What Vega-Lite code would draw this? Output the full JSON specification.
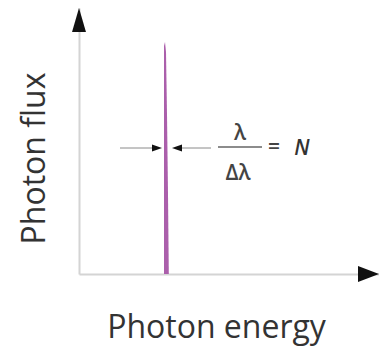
{
  "$schema": "https://vega.github.io/schema/vega-lite/v6.json",
  "width": 300,
  "height": 266,
  "autosize": {"type": "none"},
  "padding": {"left": 79, "top": 8, "right": 0, "bottom": 72},
  "background": "white",
  "config": {"view": {"stroke": null}, "font": "Open Sans"},
  "datasets": {
    "peak": [
      {"x": 85, "y": 228},
      {"x": 86, "y": 232},
      {"x": 87, "y": 222},
      {"x": 88, "y": 160},
      {"x": 89, "y": 80},
      {"x": 89.8, "y": 0}
    ],
    "leftLine": [{"x": 41, "y": 126}, {"x": 78, "y": 126}],
    "rightLine": [{"x": 98, "y": 126}, {"x": 132, "y": 126}],
    "headRight": [{"x": 78, "y": 126}],
    "headLeft": [{"x": 98, "y": 126}],
    "frac": [{"x": 139, "x2": 183, "y": 127}],
    "labels": [
      {"x": 161, "y": 134, "t": "λ"},
      {"x": 159, "y": 94, "t": "Δλ"},
      {"x": 195, "y": 120, "t": "="}
    ],
    "nlabel": [{"x": 223, "y": 119, "t": "N"}],
    "yArrow": [{"x": 0, "y": 254}],
    "xArrow": [{"x": 289.5, "y": 0}]
  },
  "layer": [
    {
      "data": {"name": "peak"},
      "mark": {"type": "area", "color": "#ab5fab", "interpolate": "linear"},
      "encoding": {
        "x": {"field": "x", "type": "quantitative", "scale": {"domain": [0, 300], "nice": false, "zero": false},
          "axis": {"title": "Photon energy", "labels": false, "ticks": false, "grid": false, "domainColor": "#d4d4d4", "domainWidth": 2,
            "titleFont": "Open Sans", "titleFontSize": 32, "titleFontWeight": "normal", "titleColor": "#333333",
            "titleX": 137, "titleY": 63, "titleAlign": "center", "titleBaseline": "alphabetic"}},
        "y": {"field": "y", "type": "quantitative", "scale": {"domain": [0, 266], "nice": false},
          "axis": {"title": "Photon flux", "labels": false, "ticks": false, "grid": false, "domainColor": "#d4d4d4", "domainWidth": 2,
            "titleFont": "Open Sans", "titleFontSize": 32, "titleFontWeight": "normal", "titleColor": "#333333",
            "titleX": -35, "titleY": 150, "titleAlign": "center", "titleBaseline": "alphabetic", "titleAngle": -90}}
      }
    },
    {
      "data": {"name": "leftLine"},
      "mark": {"type": "line", "color": "#8a8a8a", "strokeWidth": 1},
      "encoding": {"x": {"field": "x", "type": "quantitative"}, "y": {"field": "y", "type": "quantitative"}}
    },
    {
      "data": {"name": "rightLine"},
      "mark": {"type": "line", "color": "#8a8a8a", "strokeWidth": 1},
      "encoding": {"x": {"field": "x", "type": "quantitative"}, "y": {"field": "y", "type": "quantitative"}}
    },
    {
      "data": {"name": "headRight"},
      "mark": {"type": "point", "filled": true, "color": "#111111", "opacity": 1, "size": 100, "shape": "M1,0L-1,-0.7L-1,0.7Z"},
      "encoding": {"x": {"field": "x", "type": "quantitative"}, "y": {"field": "y", "type": "quantitative"}}
    },
    {
      "data": {"name": "headLeft"},
      "mark": {"type": "point", "filled": true, "color": "#111111", "opacity": 1, "size": 100, "shape": "M-1,0L1,-0.7L1,0.7Z"},
      "encoding": {"x": {"field": "x", "type": "quantitative"}, "y": {"field": "y", "type": "quantitative"}}
    },
    {
      "data": {"name": "frac"},
      "mark": {"type": "rule", "color": "#666666", "strokeWidth": 1.5},
      "encoding": {"x": {"field": "x", "type": "quantitative"}, "x2": {"field": "x2"}, "y": {"field": "y", "type": "quantitative"}}
    },
    {
      "data": {"name": "labels"},
      "mark": {"type": "text", "font": "Open Sans", "fontSize": 21, "fontWeight": 600, "color": "#444444", "align": "center", "baseline": "alphabetic"},
      "encoding": {"x": {"field": "x", "type": "quantitative"}, "y": {"field": "y", "type": "quantitative"}, "text": {"field": "t"}}
    },
    {
      "data": {"name": "nlabel"},
      "mark": {"type": "text", "font": "Open Sans", "fontSize": 21, "fontStyle": "italic", "fontWeight": 600, "color": "#333333", "align": "center", "baseline": "alphabetic"},
      "encoding": {"x": {"field": "x", "type": "quantitative"}, "y": {"field": "y", "type": "quantitative"}, "text": {"field": "t"}}
    },
    {
      "data": {"name": "yArrow"},
      "mark": {"type": "point", "filled": true, "color": "#111111", "opacity": 1, "size": 576, "shape": "M0,-1L0.58,1L-0.58,1Z"},
      "encoding": {"x": {"field": "x", "type": "quantitative"}, "y": {"field": "y", "type": "quantitative"}}
    },
    {
      "data": {"name": "xArrow"},
      "mark": {"type": "point", "filled": true, "color": "#111111", "opacity": 1, "size": 441, "shape": "M1,0L-1,-0.76L-1,0.76Z"},
      "encoding": {"x": {"field": "x", "type": "quantitative"}, "y": {"field": "y", "type": "quantitative"}}
    }
  ]
}
